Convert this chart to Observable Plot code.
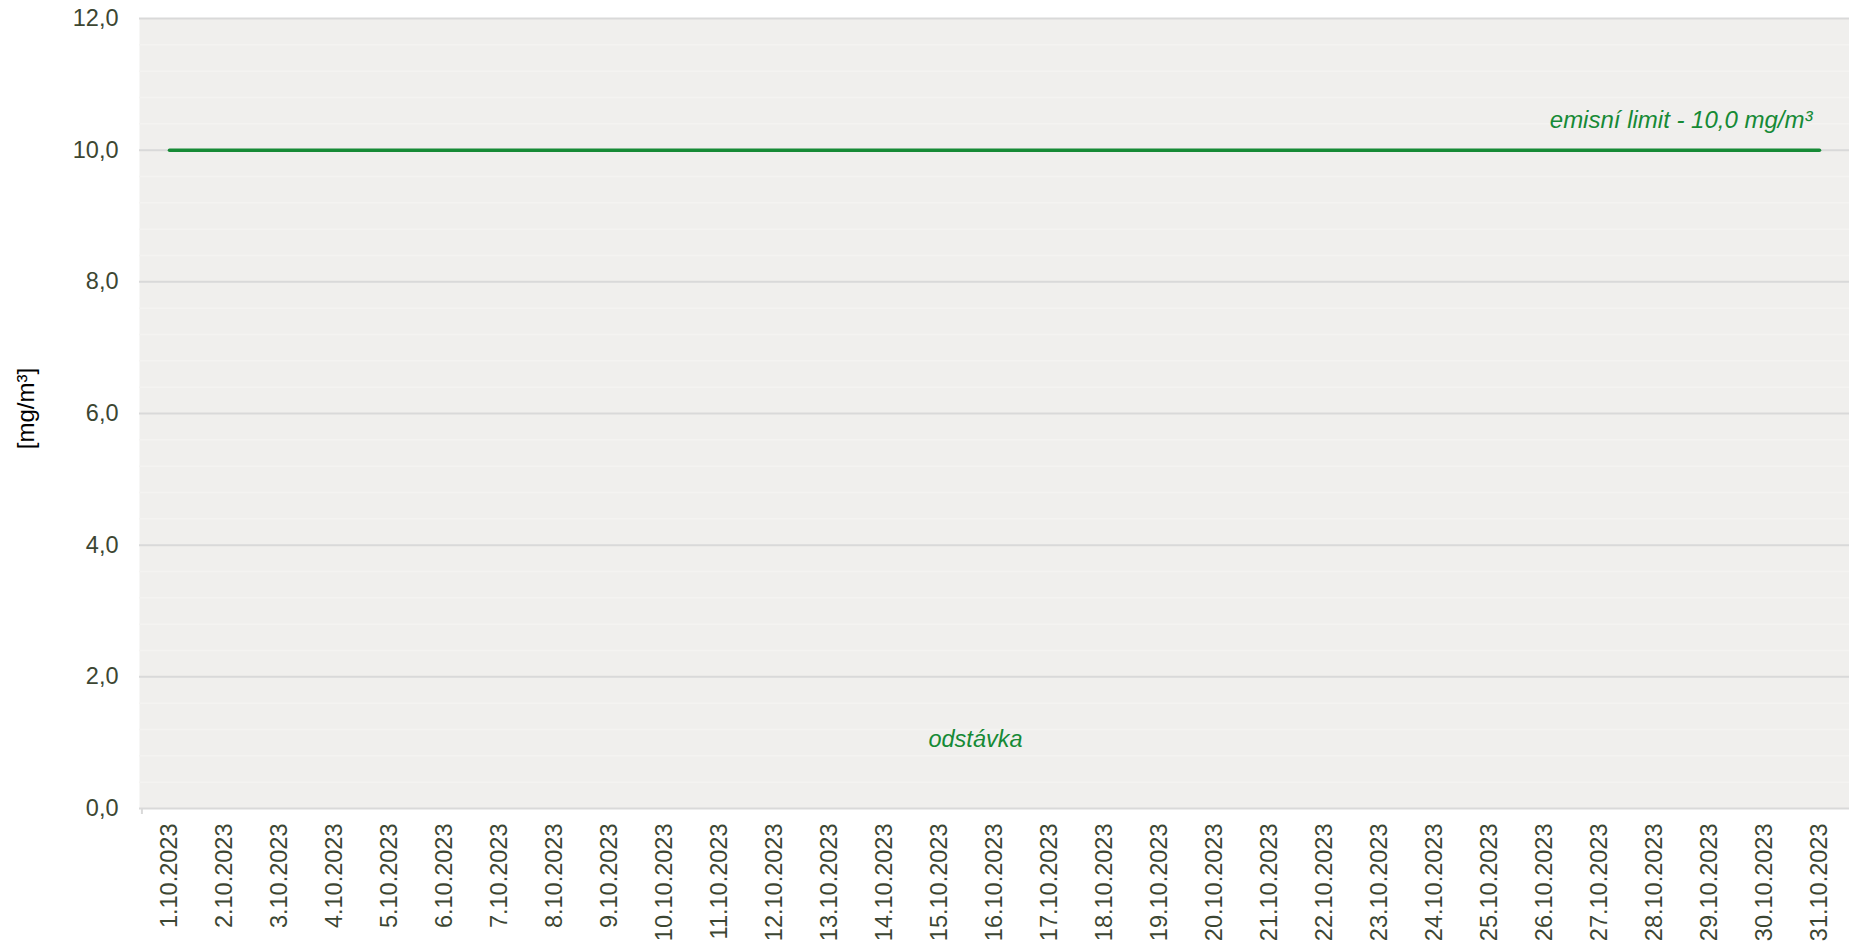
<!DOCTYPE html>
<html>
<head>
<meta charset="utf-8">
<script src="https://cdn.jsdelivr.net/npm/d3@7"></script>
<script src="https://cdn.jsdelivr.net/npm/@observablehq/plot@0.6"></script>
<style>
  html, body { margin: 0; padding: 0; background: #ffffff; }
  #chart svg { display: block; }
</style>
</head>
<body>
<div id="chart"></div>
<script>
// Data
const days = [
  "1.10.2023","2.10.2023","3.10.2023","4.10.2023","5.10.2023","6.10.2023","7.10.2023",
  "8.10.2023","9.10.2023","10.10.2023","11.10.2023","12.10.2023","13.10.2023","14.10.2023",
  "15.10.2023","16.10.2023","17.10.2023","18.10.2023","19.10.2023","20.10.2023","21.10.2023",
  "22.10.2023","23.10.2023","24.10.2023","25.10.2023","26.10.2023","27.10.2023","28.10.2023",
  "29.10.2023","30.10.2023","31.10.2023"
];
const emissionLimit = [
  10,10,10,10,10,10,10,10,10,10,10,10,10,10,10,10,10,10,10,10,10,10,10,10,10,10,10,10,10,10,10
];
const yTicks = [0, 2, 4, 6, 8, 10, 12];
const yMinorTicks = [0.4,0.8,1.2,1.6,2.4,2.8,3.2,3.6,4.4,4.8,5.2,5.6,6.4,6.8,7.2,7.6,8.4,8.8,9.2,9.6,10.4,10.8,11.2,11.6];
const limitLabel = "emisní limit - 10,0 mg/m³";
const shutdownLabel = "odstávka";
const yTitle = "[mg/m³]";

const limitData = days.map((d, i) => ({day: d, value: emissionLimit[i]}));

const green = "#168a36";
const textColor = "#3c4632";
const font = "'Liberation Sans', Arial, sans-serif";

const chart = Plot.plot({
  width: 1849,
  height: 946,
  marginLeft: 139,
  marginRight: 0,
  marginTop: 18,
  marginBottom: 138,
  style: {fontFamily: font, fontSize: "23.5px", color: textColor, background: "#ffffff"},
  x: {type: "point", domain: days, padding: 0.5},
  y: {domain: [0, 12]},
  marks: [
    Plot.frame({fill: "#f0efed", stroke: null}),
    Plot.gridY(yMinorTicks, {stroke: "#f4f3f1", strokeOpacity: 1, strokeWidth: 1.5}),
    Plot.gridY(yTicks, {stroke: "#d9d9d9", strokeOpacity: 1, strokeWidth: 2}),
    Plot.ruleX([days[0]], {y1: 0, y2: 0, dx: -27.6, insetBottom: -6, stroke: "#d9d9d9", strokeWidth: 2}),
    Plot.axisY(yTicks, {
      tickSize: 0, tickPadding: 21, label: null, fill: textColor,
      tickFormat: d => d.toFixed(1).replace(".", ","), fontSize: 23.5
    }),
    Plot.axisX({
      tickSize: 0, tickPadding: 15, tickRotate: -90, label: null, fill: textColor, fontSize: 23.5
    }),
    Plot.line(limitData, {x: "day", y: "value", stroke: green, strokeWidth: 3.5, strokeLinecap: "round"}),
    Plot.text([{day: days[30], value: 10}], {
      x: "day", y: "value", text: () => limitLabel, textAnchor: "end", lineAnchor: "bottom",
      dx: -7, dy: -22, fill: green, fontStyle: "italic", fontSize: 24
    }),
    Plot.text([{day: days[15], value: 1.05}], {
      x: "day", y: "value", text: () => shutdownLabel, textAnchor: "middle",
      dx: -19, fill: green, fontStyle: "italic", fontSize: 23.5
    }),
    Plot.text([yTitle], {
      frameAnchor: "left", textAnchor: "middle", dx: -113, dy: -5, rotate: -90,
      fill: "#000000", fontSize: 24
    })
  ]
});

document.getElementById("chart").appendChild(chart);
</script>
</body>
</html>
